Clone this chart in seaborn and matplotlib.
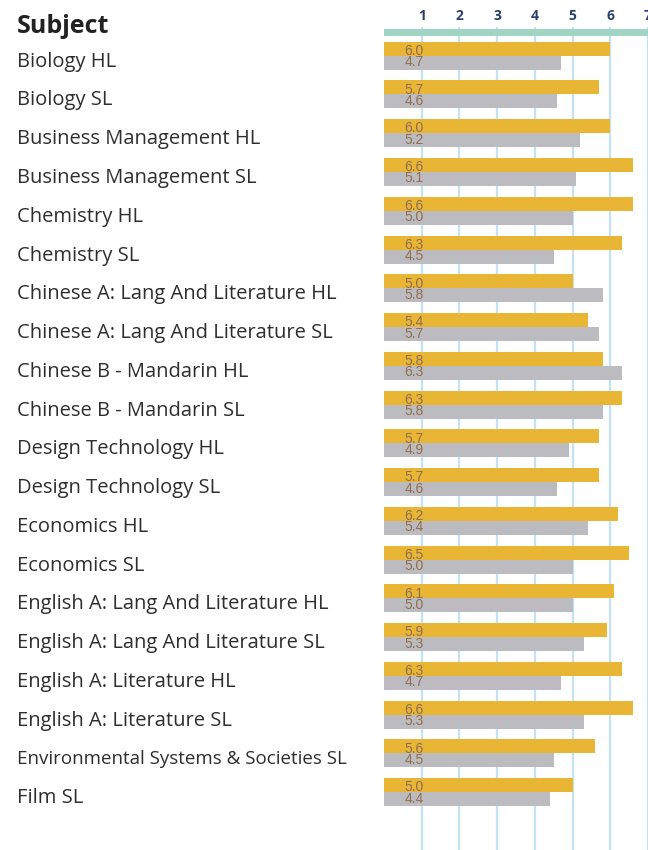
import matplotlib
matplotlib.use("Agg")
import matplotlib.pyplot as plt
import matplotlib.transforms as mtransforms
import seaborn as sns
import pandas as pd
import numpy as np

subjects = [
    "Biology HL", "Biology SL", "Business Management HL", "Business Management SL",
    "Chemistry HL", "Chemistry SL", "Chinese A: Lang And Literature HL",
    "Chinese A: Lang And Literature SL", "Chinese B - Mandarin HL", "Chinese B - Mandarin SL",
    "Design Technology HL", "Design Technology SL", "Economics HL", "Economics SL",
    "English A: Lang And Literature HL", "English A: Lang And Literature SL",
    "English A: Literature HL", "English A: Literature SL",
    "Environmental Systems & Societies SL", "Film SL",
]
school = [6.0, 5.7, 6.0, 6.6, 6.6, 6.3, 5.0, 5.4, 5.8, 6.3,
          5.7, 5.7, 6.2, 6.5, 6.1, 5.9, 6.3, 6.6, 5.6, 5.0]
world = [4.7, 4.6, 5.2, 5.1, 5.0, 4.5, 5.8, 5.7, 6.3, 5.8,
         4.9, 4.6, 5.4, 5.0, 5.0, 5.3, 4.7, 5.3, 4.5, 4.4]
series = ["School", "World"]
xticks = [1, 2, 3, 4, 5, 6, 7]

df = pd.DataFrame({
    "Subject": subjects * 2,
    "Grade": school + world,
    "Series": [series[0]] * len(subjects) + [series[1]] * len(subjects),
})

sns.set_theme(style="white")
plt.rcParams["font.family"] = ["Open Sans", "DejaVu Sans"]

W, H = 648, 850
fig = plt.figure(figsize=(W / 100, H / 100), dpi=100)
ax_left = 384 / W
ax_top = 27 / H
ax = fig.add_axes([ax_left, 0, 1 - ax_left, 1 - ax_top])

gold = "#e8b535"
grey = "#bcbcc0"
sns.barplot(data=df, y="Subject", x="Grade", hue="Series", order=subjects,
            hue_order=series, palette=[gold, grey], orient="h", width=0.722,
            gap=0, dodge=True, ax=ax, legend=False, zorder=3, saturation=1,
            linewidth=0)

ax.set_xlim(0, 6.96)
ax.set_ylim(20.49, -0.74)
ax.set_xticks(xticks)
ax.xaxis.tick_top()
ax.tick_params(axis="x", length=0, pad=3)
for lab in ax.get_xticklabels():
    lab.set_fontweight("bold")
    lab.set_fontsize(10)
    lab.set_color("#2c3f6e")
ax.set_yticks([])
ax.set_xlabel("")
ax.set_ylabel("")
for s in ax.spines.values():
    s.set_visible(False)
for x in xticks:
    ax.axvline(x, color="#c3e2f4", lw=1.6, zorder=1)
ax.axhspan(-0.689, -0.508, color="#a0d5c3", lw=0, zorder=4)

# value labels
for i, (s, w) in enumerate(zip(school, world)):
    ax.text(0.55, i - 0.02, f"{s:.1f}", ha="left", va="baseline",
            fontsize=10, color="#8f6e52", zorder=5, family=["Liberation Sans"])
    ax.text(0.55, i + 0.27, f"{w:.1f}", ha="left", va="baseline",
            fontsize=10, color="#8f6e52", zorder=5, family=["Liberation Sans"])

# subject labels
trans = mtransforms.blended_transform_factory(fig.transFigure, ax.transData)
for i, name in enumerate(subjects):
    fs = 13.5 if len(name) > 34 else 14.5
    ax.text(17 / W, i + 0.284, name, transform=trans, ha="left", va="baseline",
            fontsize=fs, color="#2e2e2e", clip_on=False)

fig.text(17 / W, 1 - 33 / H, "Subject", ha="left", va="baseline",
         fontsize=18, fontweight="bold", color="#222222")

fig.savefig("out.png", dpi=100)
